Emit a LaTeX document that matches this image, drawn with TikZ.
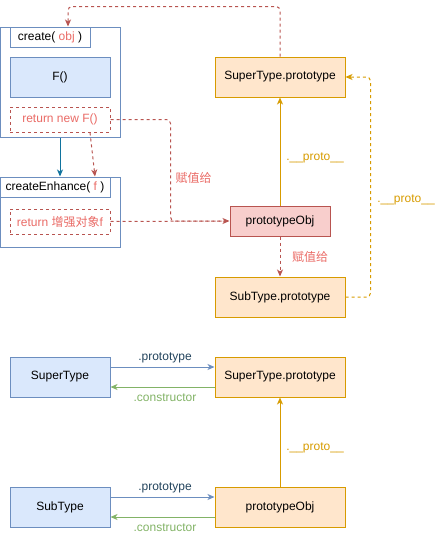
\documentclass[tikz,border=0pt]{standalone}
\usepackage{fontspec}
\setmainfont{Liberation Sans}
\newfontfamily\cjk{Noto Sans CJK SC}
\usetikzlibrary{arrows.meta,calc}
\definecolor{bfill}{HTML}{DAE8FC}
\definecolor{bline}{HTML}{6C8EBF}
\definecolor{ofill}{HTML}{FFE6CC}
\definecolor{oline}{HTML}{D79B00}
\definecolor{rfill}{HTML}{F8CECC}
\definecolor{rline}{HTML}{B85450}
\definecolor{rtext}{HTML}{EA6B66}
\definecolor{gline}{HTML}{82B366}
\definecolor{dblue}{HTML}{10739E}
\definecolor{ntext}{HTML}{23445D}
\tikzset{
  every node/.style={font=\fontsize{12}{14}\selectfont, inner sep=0pt},
  bbox/.style={draw=bline, fill=bfill, line width=1pt},
  obox/.style={draw=oline, fill=ofill, line width=1pt},
  rbox/.style={draw=rline, fill=rfill, line width=1pt},
  frame/.style={draw=bline, fill=white, line width=1pt},
  dbox/.style={draw=rline, line width=1pt, dash pattern=on 3pt off 3pt, text=rtext},
  tip/.style={-{Stealth[length=7pt,width=6pt,inset=2pt]}},
  dline/.style={dash pattern=on 3pt off 3pt},
  lbl/.style={fill=none},
}
\begin{document}
\begin{tikzpicture}[x=1pt,y=-1pt]
\useasboundingbox (0,0) rectangle (441,538);
% top-left frames
\node[frame, minimum width=120pt, minimum height=110pt] (create) at (60,82) {};
\node[frame, minimum width=80pt, minimum height=20pt] (createT) at (50,37) {create( {\color{rtext}obj} )};
\node[bbox, minimum width=100pt, minimum height=40pt] (F) at (60,77) {F()};
\node[dbox, minimum width=100pt, minimum height=25pt] (retnew) at (60,119.5) {return new F()};
\node[frame, minimum width=120pt, minimum height=70pt] (ce) at (60,212) {};
\node[frame, minimum width=110pt, minimum height=20pt] (ceT) at (55,187) {createEnhance( {\color{rtext}f} )};
\node[dbox, minimum width=100pt, minimum height=25pt] (ret2) at (60,221.5) {return {\cjk 增强对象}f};
% top-right
\node[obox, minimum width=130pt, minimum height=40pt] (sp1) at (280,77) {SuperType.prototype};
\node[rbox, minimum width=100pt, minimum height=30pt] (po1) at (280,221) {prototypeObj};
\node[obox, minimum width=130pt, minimum height=40pt] (sub1) at (280,297) {SubType.prototype};
% connectors top
\draw[rline, line width=1pt, dline, tip, rounded corners=4pt] (sp1.north) -- ++(0,-50) -| ([xshift=8pt]create.north);
\draw[dblue, line width=1pt, tip] (create.south) -- (ce.north);
\draw[rline, line width=1pt, dline, tip] ([xshift=30pt]retnew.south) -- ([xshift=35pt]ce.north);
\draw[rline, line width=1pt, dline, tip, rounded corners=4pt] (retnew.east) -- ++(60,0) |- (po1.west);
\draw[rline, line width=1pt, dline] (ret2.east) -- ([xshift=-6pt]po1.west);
\node[text=rtext] (l1) at (193.5,178) {\cjk 赋值给};
\draw[oline, line width=1pt, tip] (po1.north) -- (sp1.south);
\node[text=oline] (l2) at (315,158) {.\_\_proto\_\_};
\draw[rline, line width=1pt, dline, tip] (po1.south) -- (sub1.north);
\node[text=rtext] (l3) at (310,257) {\cjk 赋值给};
\draw[oline, line width=1pt, dline, tip, rounded corners=4pt] (sub1.east) -- ++(25,0) |- (sp1.east);
\node[text=oline] (l4) at (406,200) {.\_\_proto\_\_};
% bottom
\node[bbox, minimum width=100pt, minimum height=40pt] (st) at (60,377) {SuperType};
\node[obox, minimum width=130pt, minimum height=40pt] (sp2) at (280,377) {SuperType.prototype};
\node[bbox, minimum width=100pt, minimum height=40pt] (sbt) at (60,507) {SubType};
\node[obox, minimum width=130pt, minimum height=40pt] (po2) at (280,507) {prototypeObj};
\draw[bline, line width=1pt, tip] ([yshift=10pt]st.east) -- ([yshift=10pt]sp2.west);
\node[text=ntext] (l5) at (165,358) {.prototype};
\draw[gline, line width=1pt, tip] ([yshift=-10pt]sp2.west) -- ([yshift=-10pt]st.east);
\node[text=gline] (l6) at (165,398) {.constructor};
\draw[bline, line width=1pt, tip] ([yshift=10pt]sbt.east) -- ([yshift=10pt]po2.west);
\node[text=ntext] (l7) at (165,488) {.prototype};
\draw[gline, line width=1pt, tip] ([yshift=-10pt]po2.west) -- ([yshift=-10pt]sbt.east);
\node[text=gline] (l8) at (165,528) {.constructor};
\draw[oline, line width=1pt, tip] (po2.north) -- (sp2.south);
\node[text=oline] (l9) at (315,448) {.\_\_proto\_\_};
\end{tikzpicture}
\end{document}
